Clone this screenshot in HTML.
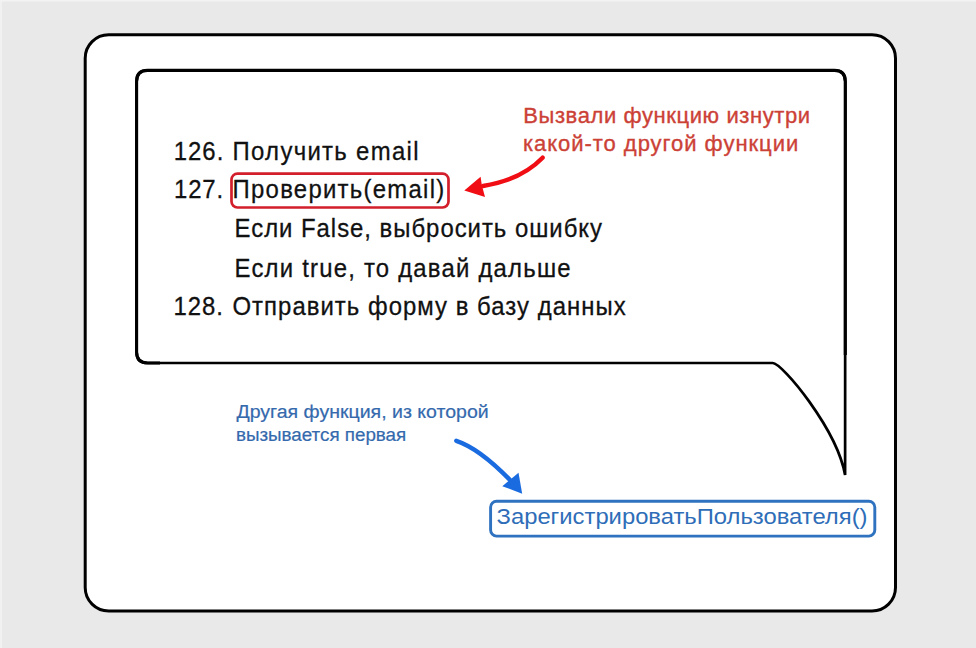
<!DOCTYPE html>
<html>
<head>
<meta charset="utf-8">
<style>
html,body{margin:0;padding:0;}
body{width:976px;height:648px;background:#e9e9e9;overflow:hidden;position:relative;font-family:"Liberation Sans",sans-serif;}
svg{position:absolute;left:0;top:0;}
</style>
</head>
<body>
<svg width="976" height="648" viewBox="0 0 976 648">
  <rect x="0" y="0" width="2" height="648" fill="#f1f1f1"/>
  <rect x="0" y="0" width="976" height="1.5" fill="#f3f3f3"/>
  <rect x="85.2" y="34.8" width="810.3" height="576.2" rx="23.5" ry="23.5" fill="#ffffff" stroke="#000" stroke-width="3"/>
  <path d="M147.6 70.4 L834.3 70.4 Q845.3 70.4 845.3 81.4 L845.1 475 C837 429.4 782.3 363 772.7 363 L147.6 363 Q136.6 363 136.6 352 L136.6 81.4 Q136.6 70.4 147.6 70.4 Z" fill="#fff" stroke="#000" stroke-width="2.7" stroke-linejoin="miter" stroke-miterlimit="4"/>
  <path d="M845.3 355 L845.3 81.4 Q845.3 70.4 834.3 70.4 L147.6 70.4 Q136.6 70.4 136.6 81.4 L136.6 352 Q136.6 363 147.6 363 L160 363" fill="none" stroke="#000" stroke-width="3.1"/>
  <g font-family="Liberation Sans, sans-serif" font-size="26" fill="#111" stroke="#111" stroke-width="0.3">
    <text id="n1" transform="matrix(0.92 0 0 1 173.75 0)" x="0" y="160" textLength="53.86" lengthAdjust="spacing">126.</text>
    <text id="t1" transform="matrix(0.92 0 0 1 232.55 0)" x="0" y="160" textLength="202.12" lengthAdjust="spacing">Получить email</text>
    <text id="n2" transform="matrix(0.92 0 0 1 173.95 0)" x="0" y="198.3" textLength="53.53" lengthAdjust="spacing">127.</text>
    <text id="t2" transform="matrix(0.92 0 0 1 232.55 0)" x="0" y="198.3" textLength="230.11" lengthAdjust="spacing">Проверить(email)</text>
    <text id="t3" transform="matrix(0.92 0 0 1 234.55 0)" x="0" y="237.3" textLength="399.40" lengthAdjust="spacing">Если False, выбросить ошибку</text>
    <text id="t4" transform="matrix(0.92 0 0 1 234.55 0)" x="0" y="276.8" textLength="365.27" lengthAdjust="spacing">Если true, то давай дальше</text>
    <text id="n5" transform="matrix(0.92 0 0 1 173.55 0)" x="0" y="315.2" textLength="53.53" lengthAdjust="spacing">128.</text>
    <text id="t5" transform="matrix(0.92 0 0 1 232.50 0)" x="0" y="315.2" textLength="427.28" lengthAdjust="spacing">Отправить форму в базу данных</text>
  </g>
  <rect x="231.5" y="173.6" width="217" height="33.9" rx="6" ry="6" fill="none" stroke="#d21f2b" stroke-width="2.7"/>
  <g font-family="Liberation Sans, sans-serif" font-size="22" fill="#cc4136" stroke="#cc4136" stroke-width="0.35">
    <text id="r1" transform="matrix(1.0 0 0 1 523.25 0)" x="0" y="123" textLength="286.85" lengthAdjust="spacing">Вызвали функцию изнутри</text>
    <text id="r2" transform="matrix(1.0 0 0 1 522.95 0)" x="0" y="150.5" textLength="275.25" lengthAdjust="spacing">какой-то другой функции</text>
  </g>
  <path d="M542.6 157.7 Q521 180 483 186" fill="none" stroke="#f00d14" stroke-width="4.4" stroke-linecap="round"/>
  <path d="M464.3 190.6 L480.6 176.7 L481.8 185 L485 196.9 Z" fill="#f00d14"/>
  <g font-family="Liberation Sans, sans-serif" font-size="18" fill="#3469ad" stroke="#3469ad" stroke-width="0.2">
    <text id="b1" transform="matrix(1.0 0 0 1 236.40 0)" x="0" y="418" textLength="252.35" lengthAdjust="spacingAndGlyphs">Другая функция, из которой</text>
    <text id="b2" transform="matrix(1.0 0 0 1 235.95 0)" x="0" y="440.5" textLength="170.30" lengthAdjust="spacingAndGlyphs">вызывается первая</text>
  </g>
  <path d="M456.3 440.8 Q479.5 448.5 510 480" fill="none" stroke="#1a6be0" stroke-width="4.4" stroke-linecap="round"/>
  <path d="M522.2 493.7 L502.3 486.2 L518.5 472.7 Z" fill="#1a6be0"/>
  <rect x="490.6" y="501.3" width="384.2" height="34.8" rx="6" ry="6" fill="none" stroke="#2f72bf" stroke-width="2.9"/>
  <g font-family="Liberation Sans, sans-serif" font-size="22.5" fill="#2e6db8" stroke="#2e6db8" stroke-width="0.0">
    <text id="bx" transform="matrix(1.0 0 0 1 496.55 0)" x="0" y="524.3" textLength="370.95" lengthAdjust="spacingAndGlyphs">ЗарегистрироватьПользователя()</text>
  </g>
</svg>
</body>
</html>
